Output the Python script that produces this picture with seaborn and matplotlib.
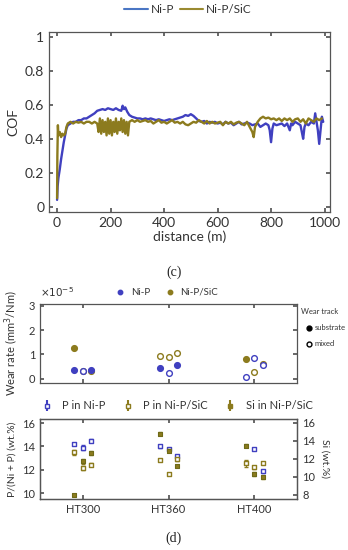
import numpy as np
import pandas as pd
import matplotlib
matplotlib.use("Agg")
import matplotlib.pyplot as plt
from matplotlib.lines import Line2D
import seaborn as sns

# COF vs distance
d_nip = [0, 2, 5, 10, 15, 20, 25, 30, 35, 40, 50, 60, 70, 80, 90, 100, 110, 120, 130, 140,
         150, 160, 170, 180, 190, 200, 210, 220, 230, 240, 245, 250, 255, 262, 270, 280, 290, 300,
         310, 320, 330, 340, 350, 360, 370, 380, 390, 400, 410, 420, 430, 440, 450, 460, 470,
         480, 490, 500, 510, 520, 530, 540, 550, 560, 570, 580, 590, 600, 610, 620, 630, 640,
         650, 660, 670, 680, 690, 700, 710, 720, 730, 740, 750, 760, 770, 780, 790, 795, 800,
         805, 810, 820, 830, 840, 850, 860, 870, 875, 880, 890, 900, 910, 915, 920, 925, 930,
         940, 950, 960, 965, 970, 975, 980, 985, 990, 995]
cof_nip = [0.04, 0.12, 0.17, 0.22, 0.28, 0.33, 0.38, 0.42, 0.46, 0.48, 0.49, 0.50, 0.50, 0.51,
           0.51, 0.52, 0.52, 0.53, 0.54, 0.55, 0.565, 0.57, 0.575, 0.57, 0.58, 0.575, 0.57, 0.58,
           0.57, 0.565, 0.595, 0.575, 0.585, 0.56, 0.54, 0.53, 0.525, 0.52, 0.52, 0.515, 0.52,
           0.515, 0.52, 0.515, 0.51, 0.515, 0.51, 0.505, 0.51, 0.515, 0.51, 0.515, 0.52, 0.525,
           0.53, 0.54, 0.535, 0.545, 0.535, 0.52, 0.505, 0.50, 0.505, 0.49, 0.50, 0.495, 0.50,
           0.49, 0.495, 0.485, 0.50, 0.49, 0.495, 0.48, 0.49, 0.50, 0.485, 0.49, 0.495, 0.49,
           0.48, 0.485, 0.49, 0.47, 0.48, 0.49, 0.48, 0.45, 0.38, 0.46, 0.49, 0.48, 0.485, 0.49,
           0.475, 0.49, 0.45, 0.49, 0.48, 0.50, 0.49, 0.48, 0.44, 0.40, 0.47, 0.49, 0.48, 0.50,
           0.49, 0.55, 0.50, 0.45, 0.37, 0.45, 0.53, 0.50]

d_sic = [0, 1, 3, 5, 10, 15, 20, 25, 30, 35, 40, 50, 60, 70, 80, 90, 100, 110, 120, 130, 140,
         150, 155, 160, 165, 170, 175, 180, 185, 190, 195, 200, 205, 210, 215, 220, 225, 230,
         235, 240, 245, 250, 255, 260, 265, 270, 280, 290, 300, 310, 320, 330, 340, 350, 360,
         370, 380, 390, 400, 410, 420, 430, 440, 450, 460, 470, 480, 490, 500, 510, 520, 530,
         540, 550, 560, 570, 580, 590, 600, 610, 620, 630, 640, 650, 660, 670, 680, 690, 700,
         710, 720, 730, 735, 740, 750, 760, 770, 780, 790, 800, 810, 820, 830, 840, 850, 860,
         870, 880, 890, 900, 910, 920, 930, 940, 950, 960, 970, 980, 990]
cof_sic = [0.05, 0.30, 0.48, 0.42, 0.44, 0.41, 0.43, 0.42, 0.43, 0.47, 0.49, 0.50, 0.49, 0.50,
           0.495, 0.50, 0.49, 0.50, 0.50, 0.49, 0.50, 0.49, 0.44, 0.52, 0.43, 0.51, 0.44, 0.50,
           0.42, 0.52, 0.43, 0.51, 0.42, 0.50, 0.44, 0.52, 0.43, 0.50, 0.45, 0.52, 0.44, 0.51,
           0.43, 0.50, 0.42, 0.50, 0.51, 0.50, 0.51, 0.50, 0.505, 0.51, 0.50, 0.505, 0.49, 0.50,
           0.51, 0.495, 0.50, 0.49, 0.50, 0.51, 0.495, 0.50, 0.49, 0.50, 0.485, 0.48, 0.49, 0.50,
           0.495, 0.51, 0.50, 0.49, 0.505, 0.49, 0.50, 0.49, 0.495, 0.50, 0.48, 0.50, 0.49, 0.50,
           0.485, 0.495, 0.50, 0.49, 0.48, 0.50, 0.47, 0.44, 0.41, 0.47, 0.50, 0.52, 0.53, 0.52,
           0.525, 0.515, 0.52, 0.51, 0.52, 0.505, 0.52, 0.51, 0.52, 0.50, 0.515, 0.52, 0.50,
           0.515, 0.49, 0.52, 0.51, 0.50, 0.52, 0.51, 0.52]

# wear rate / composition, three samples per heat treatment
groups = ["HT300", "HT360", "HT400"]
offsets = [-0.1, 0.0, 0.1]

wear_nip = [0.35, 0.30, 0.35, 0.45, 0.25, 0.58, 0.06, 0.86, 0.57]
track_nip = ["substrate", "mixed", "substrate", "substrate", "mixed", "substrate", "mixed", "mixed", "mixed"]
wear_sic = [1.25, 0.30, 0.30, 0.94, 0.90, 1.04, 0.79, 0.27, 0.62]
track_sic = ["substrate", "mixed", "mixed", "mixed", "mixed", "mixed", "substrate", "mixed", "mixed"]

p_nip = [14.2, 13.9, 14.5, 14.0, 13.77, 13.2, np.nan, 13.77, 11.85]
p_nip_err = [0.1, 0.2, 0.1, 0.1, 0.1, 0.1, 0.0, 0.1, 0.15]
p_sic = [13.5, 12.15, 12.45, 12.86, 11.63, 12.9, 12.57, 12.2, 12.57]
p_sic_err = [0.2, 0.15, 0.1, 0.1, 0.1, 0.15, 0.3, 0.15, 0.1]
si_sic = [8.0, 11.7, 12.65, 14.8, 12.9, 11.24, 13.47, 10.3, 9.93]
si_sic_err = [0.1, 0.3, 0.25, 0.15, 0.2, 0.1, 0.2, 0.25, 0.2]

blue = "#4040c0"
olive = "#8c7b1e"
spine = "#555555"

sns.set_theme(style="ticks")
plt.rcParams["font.family"] = ["Lato", "DejaVu Sans"]
plt.rcParams["axes.edgecolor"] = spine
plt.rcParams["xtick.color"] = spine
plt.rcParams["ytick.color"] = spine
plt.rcParams["xtick.direction"] = "in"
plt.rcParams["ytick.direction"] = "in"
plt.rcParams["axes.linewidth"] = 0.9

fig = plt.figure(figsize=(3.48, 5.5), dpi=100)

# ---- (c) COF
ax1 = fig.add_axes([0.141, 0.615, 0.807, 0.327])
df_c = pd.concat([
    pd.DataFrame({"distance": d_nip, "COF": cof_nip, "coating": "Ni-P"}),
    pd.DataFrame({"distance": d_sic, "COF": cof_sic, "coating": "Ni-P/SiC"}),
])
sns.lineplot(data=df_c, x="distance", y="COF", hue="coating", palette=[blue, olive],
             linewidth=1.7, ax=ax1, legend=False, sort=False)
ax1.set_xlim(-30, 1020)
ax1.set_ylim(-0.03, 1.03)
ax1.set_xticks([0, 200, 400, 600, 800, 1000])
ax1.set_yticks([0, 0.2, 0.4, 0.6, 0.8, 1.0])
ax1.set_yticklabels(["0", "0.2", "0.4", "0.6", "0.8", "1"])
ax1.tick_params(labelsize=10, labelcolor="#333333", top=True, right=True, length=3)
ax1.set_xlabel("distance (m)", fontsize=10, color="#333333", labelpad=1)
ax1.set_ylabel("COF", fontsize=10, color="#333333", labelpad=4)
handles = [Line2D([], [], color="#4a76c4", lw=1.5), Line2D([], [], color="#9a8a30", lw=1.5)]
fig.legend(handles, ["Ni-P", "Ni-P/SiC"], loc="center", bbox_to_anchor=(0.54, 0.982),
           ncol=2, frameon=False, fontsize=8.5, handlelength=2.0, columnspacing=0.5,
           handletextpad=0.2, labelcolor="#333333")
fig.text(0.5, 0.505, "(c)", ha="center", va="center", fontsize=10,
         family=["Liberation Serif"], color="#222222")

# ---- (d) wear rate
ax2 = fig.add_axes([0.115, 0.304, 0.739, 0.143])
xpos = [g + o for g in range(3) for o in offsets]
df_w = pd.concat([
    pd.DataFrame({"x": xpos, "wear": wear_nip, "track": track_nip, "coating": "Ni-P"}),
    pd.DataFrame({"x": xpos, "wear": wear_sic, "track": track_sic, "coating": "Ni-P/SiC"}),
])
for coat, col in [("Ni-P/SiC", olive), ("Ni-P", blue)]:
    for tr in ["substrate", "mixed"]:
        sub = df_w[(df_w["coating"] == coat) & (df_w["track"] == tr)]
        sns.scatterplot(data=sub, x="x", y="wear", ax=ax2, s=17, marker="o",
                        color=col if tr == "substrate" else "white",
                        edgecolor=col, linewidth=1.0, zorder=3, legend=False)
ax2.set_xlim(-0.5, 2.5)
ax2.set_ylim(-0.17, 3.07)
ax2.set_xticks([0, 1, 2])
ax2.set_xticklabels([])
ax2.set_yticks([0, 1, 2, 3])
ax2.tick_params(labelsize=8, labelcolor="#333333", top=True, right=True, length=3)
ax2.set_xlabel("")
ax2.set_ylabel("Wear rate (mm$^3$/Nm)", fontsize=8, color="#333333", labelpad=6)
ax2.text(0.0, 1.06, r"$\times10^{-5}$", transform=ax2.transAxes, fontsize=7.5,
         color="#333333", va="bottom")
h2 = [Line2D([], [], marker="o", ls="", color=blue, markersize=3.2),
      Line2D([], [], marker="o", ls="", color=olive, markersize=3.2)]
ax2.legend(h2, ["Ni-P", "Ni-P/SiC"], loc="lower left", bbox_to_anchor=(0.24, 0.98), ncol=2,
           frameon=False, fontsize=7, handletextpad=0.1, columnspacing=1.0, labelcolor="#333333")
fig.text(0.865, 0.434, "Wear track", fontsize=5.5, color="#333333", va="center")
h3 = [Line2D([], [], marker="o", ls="", color="black", markersize=3.5),
      Line2D([], [], marker="o", ls="", markerfacecolor="white", markeredgecolor="black",
             markersize=3.5)]
fig.legend(h3, ["substrate", "mixed"], loc="upper left", bbox_to_anchor=(0.855, 0.423),
           frameon=False, fontsize=5.5, handletextpad=0.1, labelspacing=1.2,
           handlelength=1.2, labelcolor="#333333")

# ---- (d) composition
ax3 = fig.add_axes([0.115, 0.093, 0.739, 0.145])
ax4 = ax3.twinx()
df_p = pd.DataFrame({"x": xpos, "P_nip": p_nip, "P_sic": p_sic, "Si": si_sic})
sns.scatterplot(data=df_p, x="x", y="P_nip", ax=ax3, marker="s", s=12, color="white",
                edgecolor=blue, linewidth=1.0, zorder=3, legend=False)
ax3.errorbar(xpos, p_nip, yerr=p_nip_err, fmt="none", ecolor=blue, elinewidth=0.8, capsize=1.5)
sns.scatterplot(data=df_p, x="x", y="P_sic", ax=ax3, marker="s", s=12, color="white",
                edgecolor=olive, linewidth=1.0, zorder=3, legend=False)
ax3.errorbar(xpos, p_sic, yerr=p_sic_err, fmt="none", ecolor=olive, elinewidth=0.8, capsize=1.5)
sns.scatterplot(data=df_p, x="x", y="Si", ax=ax4, marker="s", s=12, color=olive,
                edgecolor="#6e6a18", linewidth=0.8, zorder=3, legend=False)
ax4.errorbar(xpos, si_sic, yerr=si_sic_err, fmt="none", ecolor=olive, elinewidth=0.8, capsize=1.5)
ax3.set_xlim(-0.5, 2.5)
ax3.set_ylim(9.5, 16.35)
ax4.set_ylim(7.55, 16.4)
ax3.set_xticks([0, 1, 2])
ax3.set_xticklabels(groups)
ax3.set_yticks([10, 12, 14, 16])
ax4.set_yticks([8, 10, 12, 14, 16])
ax3.tick_params(labelsize=8, labelcolor="#333333", top=True, length=3)
ax4.tick_params(labelsize=8, labelcolor="#333333", length=3, direction="in")
ax3.set_xlabel("")
ax3.set_ylabel("P/(Ni + P) (wt.%)", fontsize=7.5, color="#333333", labelpad=4)
ax4.set_ylabel("Si (wt.%)", fontsize=7.5, color="#333333", rotation=270, labelpad=10)
h4 = [ax3.errorbar([], [], yerr=[], fmt="s", mfc="white", mec=blue, ecolor=blue, ms=3.2, capsize=1.5),
      ax3.errorbar([], [], yerr=[], fmt="s", mfc="white", mec=olive, ecolor=olive, ms=3.2, capsize=1.5),
      ax3.errorbar([], [], yerr=[], fmt="s", mfc=olive, mec=olive, ecolor=olive, ms=3.2, capsize=1.5)]
fig.legend(h4, ["P in Ni-P", "P in Ni-P/SiC", "Si in Ni-P/SiC"], loc="center",
           bbox_to_anchor=(0.5, 0.262), ncol=3, frameon=False, fontsize=8,
           handletextpad=0.4, columnspacing=1.0, labelcolor="#333333")
fig.text(0.5, 0.022, "(d)", ha="center", va="center", fontsize=10,
         family=["Liberation Serif"], color="#222222")

fig.savefig("out.png", dpi=100)
